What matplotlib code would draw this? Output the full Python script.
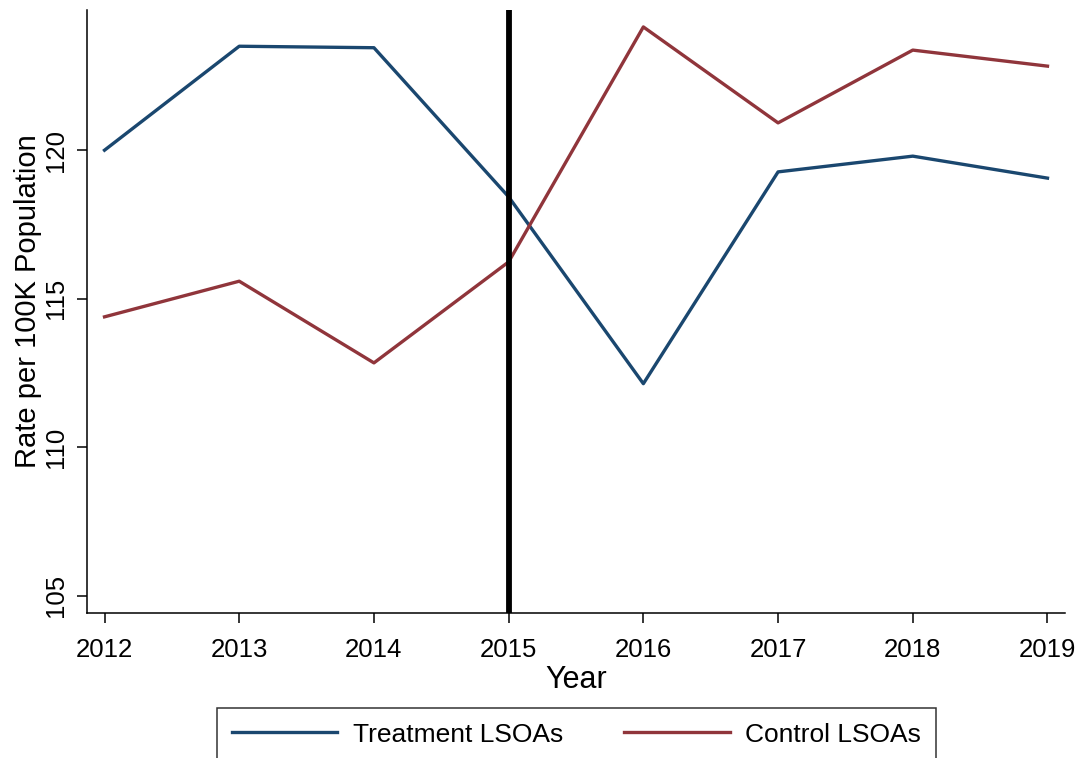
import matplotlib
matplotlib.use("Agg")
import matplotlib.pyplot as plt

# Yearly rates per 100K population
years = [2012, 2013, 2014, 2015, 2016, 2017, 2018, 2019]
treatment = [120.0, 123.5, 123.45, 118.43, 112.14, 119.27, 119.8, 119.06]
control = [114.39, 115.59, 112.84, 116.24, 124.15, 120.92, 123.37, 122.83]
intervention_year = 2015

navy = "#1a476f"
maroon = "#90353b"

plt.rcParams["font.family"] = ["Liberation Sans", "DejaVu Sans"]

W, H = 1079, 758
fig = plt.figure(figsize=(W / 100, H / 100), dpi=100)
ax = fig.add_axes([87 / W, 1 - 613 / H, (1065 - 87) / W, (613 - 10) / H])

ax.plot(years, treatment, color=navy, lw=2.4, label="Treatment LSOAs")
ax.plot(years, control, color=maroon, lw=2.4, label="Control LSOAs")
ax.axvline(intervention_year, color="black", lw=4.2, zorder=3)

ax.set_xlim(2011.87, 2019.13)
ax.set_ylim(104.42, 124.72)
ax.set_xticks(years)
ax.set_yticks([105, 110, 115, 120])

for side in ("top", "right"):
    ax.spines[side].set_visible(False)
for side in ("left", "bottom"):
    ax.spines[side].set_linewidth(1.1)

ax.tick_params(axis="both", length=7.5, width=1.1, labelsize=18.5)
ax.tick_params(axis="x", pad=10.5)
ax.tick_params(axis="y", pad=6.5)
for lbl in ax.get_yticklabels():
    lbl.set_rotation(90)
    lbl.set_va("center")

ax.set_xlabel("Year", fontsize=22, labelpad=2)
ax.set_ylabel("Rate per 100K Population", fontsize=21)
ax.yaxis.set_label_coords(-0.046, 0.517)

leg = fig.legend(loc="upper center", bbox_to_anchor=(576.5 / W, 1 - 708 / H),
                 ncol=2, fontsize=19, frameon=True, fancybox=False,
                 handlelength=4.0, handletextpad=0.6, columnspacing=2.3,
                 borderpad=0.55, borderaxespad=0)
leg.get_frame().set_edgecolor("black")
leg.get_frame().set_linewidth(1.1)

fig.savefig("out.png", dpi=100)
